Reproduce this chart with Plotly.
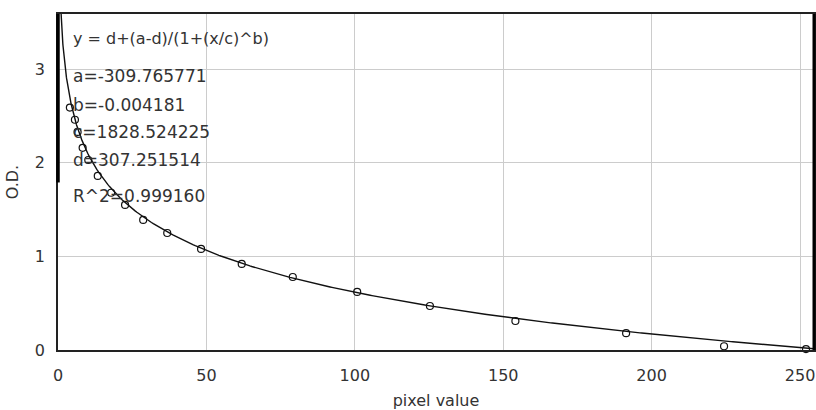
import numpy as np
import plotly.graph_objects as go

# Measured standard points (pixel value -> O.D.)
pixel_values = [4.0, 5.7, 6.6, 8.3, 10.2, 13.4, 17.9, 22.6, 28.7, 36.8, 48.2,
                61.9, 79.1, 100.8, 125.3, 154.1, 191.4, 224.4, 252.0]
od_values = [2.59, 2.46, 2.33, 2.16, 2.03, 1.86, 1.68, 1.55, 1.39, 1.25, 1.08,
             0.92, 0.78, 0.62, 0.47, 0.31, 0.18, 0.04, 0.01]

# Fit parameters shown on the chart (4-parameter logistic)
fit_a = -309.765771
fit_b = -0.004181
fit_c = 1828.524225
fit_d = 307.251514
fit_r2 = 0.999160

x_ticks = [0, 50, 100, 150, 200, 250]
y_ticks = [0, 1, 2, 3]
x_range = [0, 254.7]
y_range = [0, 3.59]
thick_axis_bottom = 1.79

x_fit = np.concatenate([np.linspace(0.8, 10, 200), np.linspace(10, 255, 400)])
y_fit = fit_d + (fit_a - fit_d) / (1 + (x_fit / fit_c) ** fit_b)

fig = go.Figure()
fig.add_trace(go.Scatter(x=x_fit, y=y_fit, mode="lines",
                         line=dict(color="#111111", width=1.4),
                         hoverinfo="skip", showlegend=False))
fig.add_trace(go.Scatter(x=pixel_values, y=od_values, mode="markers",
                         marker=dict(symbol="circle-open", size=7,
                                     color="#111111", line=dict(width=1.2)),
                         showlegend=False, cliponaxis=False))

font_family = "DejaVu Sans"
lines = [
    ("y = d+(a-d)/(1+(x/c)^b)", 3.33, 16),
    (f"a={fit_a:.6f}", 2.93, 17),
    (f"b={fit_b:.6f}", 2.62, 17),
    (f"c={fit_c:.6f}", 2.33, 17),
    (f"d={fit_d:.6f}", 2.03, 17),
    (f"R^2={fit_r2:.6f}", 1.65, 17),
]
for text, yv, sz in lines:
    fig.add_annotation(x=4.5, y=yv, xref="x", yref="y", text=text,
                       showarrow=False, xanchor="left", yanchor="middle",
                       font=dict(family=font_family, size=sz, color="#333333"))

# frame decorations
fig.add_shape(type="line", xref="paper", yref="paper", x0=1, x1=1, y0=0, y1=1,
              line=dict(color="#000000", width=3))
fig.add_shape(type="line", xref="paper", yref="y", x0=0, x1=0,
              y0=thick_axis_bottom, y1=y_range[1],
              line=dict(color="#000000", width=3.5))

axis_common = dict(showgrid=True, gridcolor="#cccccc", gridwidth=1,
                   showline=True, linecolor="#222222", linewidth=1.5,
                   mirror=True, zeroline=False, ticks="", automargin=False,
                   tickfont=dict(family=font_family, size=16, color="#333333"))

fig.update_layout(
    width=816, height=410,
    margin=dict(l=58, r=2, t=14, b=60),
    paper_bgcolor="white", plot_bgcolor="white",
    xaxis=dict(range=x_range, tickvals=x_ticks, ticklabelstandoff=10,
               title=dict(text="pixel value", standoff=12,
                          font=dict(family=font_family, size=16, color="#333333")),
               **axis_common),
    yaxis=dict(range=y_range, tickvals=y_ticks, ticklabelstandoff=8,
               title=dict(text="O.D.", standoff=12,
                          font=dict(family=font_family, size=16, color="#333333")),
               **axis_common),
)

fig.write_html("out.html",
               config={"displayModeBar": False},
               post_script="document.body.style.margin='0';"
                           "document.body.style.overflow='hidden';")
